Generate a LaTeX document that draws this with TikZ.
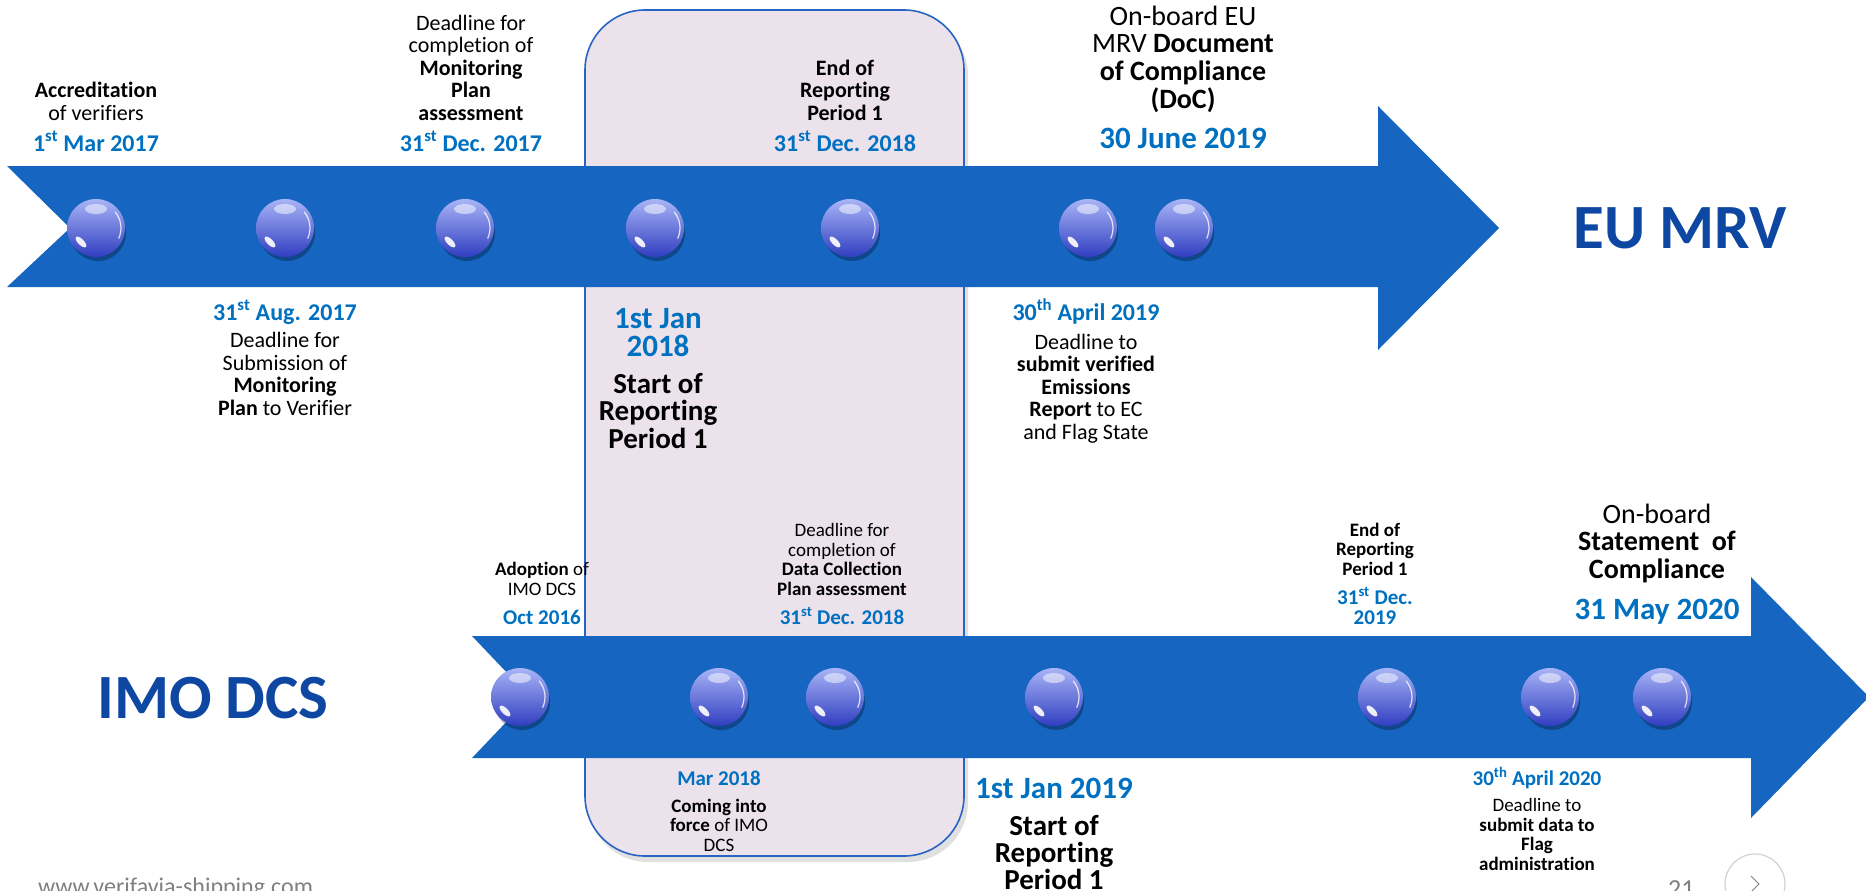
\documentclass[tikz,border=0pt]{standalone}
\usepackage{fontspec}
\setmainfont[RawFeature={-liga;-clig;-calt;-dlig}]{Carlito}
\usepackage{tikz}
\usetikzlibrary{positioning,calc}
\definecolor{mrvblue}{RGB}{22,101,192}
\definecolor{datecol}{RGB}{0,112,192}
\definecolor{titleblue}{RGB}{13,71,161}
\definecolor{pinkfill}{RGB}{236,226,236}
\definecolor{pinkline}{RGB}{40,100,195}
\definecolor{beadtop}{RGB}{168,180,246}
\definecolor{beadbot}{RGB}{48,62,192}
\newcommand{\ordsup}[1]{\textsuperscript{#1}}
\tikzset{
  band/.style={fill=mrvblue},
  bead/.style={top color=beadtop,bottom color=beadbot},
  beadshd/.style={fill=black,opacity=0.28},
  % ---- text styles (anchor = baseline of last line) ----
  txt/.style={align=center,inner sep=0pt,anchor=base,font=\fontsize{22}{22.5}\selectfont},
  txts/.style={txt,font=\fontsize{19}{19.5}\selectfont},
  txtb/.style={txt,font=\fontsize{28}{27.5}\selectfont},
  dte/.style={txt,text=datecol,font=\bfseries\fontsize{24}{24}\selectfont},
  dtes/.style={dte,font=\bfseries\fontsize{21}{20}\selectfont},
  dteb/.style={dte,font=\bfseries\fontsize{31}{27.5}\selectfont},
  ttl/.style={text=titleblue,inner sep=0pt,font=\bfseries\fontsize{63}{63}\selectfont},
  slide/.style={text=black!50,inner sep=0pt,anchor=base west},
}

\begin{document}
\begin{tikzpicture}[x=1pt,y=-1pt]
  \useasboundingbox (0,0) rectangle (1866,891);
  \clip (0,0) rectangle (1866,891);
  % ---- reporting period box ----
  \fill[black,opacity=.12,rounded corners=60pt] (588,16) rectangle (968,862);
  \draw[pinkline,line width=1.6pt,fill=pinkfill,rounded corners=60pt] (585,10) rectangle (964,856);
  % ---- the two arrows ----
  \fill[band] (7,166) -- (1378,166) -- (1378,106) -- (1499,228) -- (1378,350)
    -- (1378,287) -- (7,287) -- (70,228) -- cycle;
  \fill[band] (472,636) -- (1751,636) -- (1751,577) -- (1869,697) -- (1751,818)
    -- (1751,758) -- (472,758) -- (530,697) -- cycle;
  % ---- beads ----
  \foreach \x/\y [count=\n] in {96/228,285/228,465/228,655/228,850/228,1088/228,1184/228,
      520/697,719/697,835/697,1054/697,1387/697,1550/697,1662/697}{
    \coordinate (b\n) at (\x,\y);
    \fill[beadshd] (\x+2,\y+5) circle (28);
    \shade[bead] (b\n) circle (29);
    \fill[white,opacity=.5] (\x,\y-19) ellipse (11 and 5);
    \fill[white,opacity=.9,rotate around={-45:(\x-15,\y+14)}] (\x-15,\y+14) ellipse (7 and 3);
    \draw[white,opacity=.8,line width=1.2pt] (b\n) ++(-40:25) arc (-40:25:25);
  }
  % ---- EU MRV ----
  \node[txt] (acc) at (96,120) {\textbf{Accreditation}\\of verifiers};
  \node[dte] (accd) at (96,151) {1\ordsup{st} Mar 2017};
  \node[dte] (subd) at (285,320) {31\ordsup{st} Aug. 2017};
  \node[txt] (sub) at (285,415) {Deadline for\\Submission of\\\textbf{Monitoring}\\\textbf{Plan} to Verifier};
  \node[txt] (ass) at (471,120) {Deadline for\\completion of\\\textbf{Monitoring}\\\textbf{Plan}\\\textbf{assessment}};
  \node[dte] (assd) at (471,151) {31\ordsup{st} Dec. 2017};
  \node[dteb] (startd) at (658,356) {1st Jan\\2018};
  \node[txtb,font=\bfseries\fontsize{29}{27.5}\selectfont] (start) at (658,448) {Start of\\Reporting\\Period 1};
  \node[txt,font=\bfseries\fontsize{22}{22.5}\selectfont] (end) at (845,120) {End of\\Reporting\\Period 1};
  \node[dte] (endd) at (845,151) {31\ordsup{st} Dec. 2018};
  \node[dte] (emd) at (1086,320) {30\ordsup{th} April 2019};
  \node[txt] (em) at (1086,439) {Deadline to\\\textbf{submit verified}\\\textbf{Emissions}\\\textbf{Report} to EC\\and Flag State};
  \node[txtb] (doc) at (1183,108) {On-board EU\\MRV \textbf{Document}\\\textbf{of Compliance}\\\textbf{(DoC)}};
  \node[dteb] (docd) at (1183,148) {30 June 2019};
  \node[ttl] (mrv) at (1680,228) {EU MRV};
  % ---- IMO DCS ----
  \node[ttl] (dcs) at (213,698) {IMO DCS};
  \node[txts] (adop) at (542,595) {\textbf{Adoption} of\\IMO DCS};
  \node[dtes] (adopd) at (542,624) {Oct 2016};
  \node[dtes] (forced) at (719,785) {Mar 2018};
  \node[txts] (force) at (719,851) {\textbf{Coming into}\\\textbf{force} of IMO\\DCS};
  \node[txts] (dcp) at (842,595) {Deadline for\\completion of\\\textbf{Data Collection}\\\textbf{Plan assessment}};
  \node[dtes] (dcpd) at (842,624) {31\ordsup{st} Dec. 2018};
  \node[dteb] (start2d) at (1054,798) {1st Jan 2019};
  \node[txtb,font=\bfseries\fontsize{29}{27}\selectfont] (start2) at (1054,889) {Start of\\Reporting\\Period 1};
  \node[txts,font=\bfseries\fontsize{19}{19.5}\selectfont] (end2) at (1375,575) {End of\\Reporting\\Period 1};
  \node[dtes] (end2d) at (1375,624) {31\ordsup{st} Dec.\\2019};
  \node[dtes] (flagd) at (1537,785) {30\ordsup{th} April 2020};
  \node[txts] (flag) at (1537,870) {Deadline to\\\textbf{submit data to}\\\textbf{Flag}\\\textbf{administration}};
  \node[txtb] (soc) at (1657,578) {On-board\\\textbf{Statement\ \ of}\\\textbf{Compliance}};
  \node[dteb] (socd) at (1657,619) {31 May 2020};
  % ---- slide footer ----
  \node[slide,font=\fontsize{24}{24}\selectfont] (web) at (38,894) {www.verifavia-shipping.com};
  \node[slide,font=\fontsize{26}{26}\selectfont] (pg) at (1668,897) {21};
  \node[circle,draw=black!18,line width=1.2pt,minimum size=60pt] (nxt) at (1755,884) {};
  \draw[black!50,line width=1pt] ($(nxt.center)+(-4,-8)$) -- ($(nxt.center)+(4,0)$) -- ($(nxt.center)+(-4,8)$);
\end{tikzpicture}
\end{document}
